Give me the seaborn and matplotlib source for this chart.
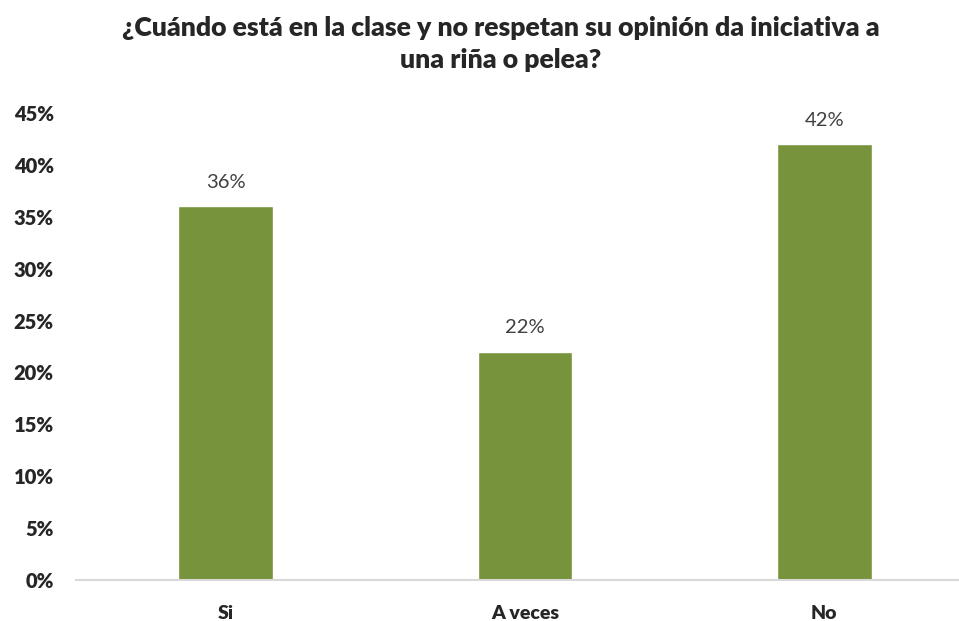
import pandas as pd
import seaborn as sns
from matplotlib import pyplot as plt

categorias = ['Si', 'A veces', 'No']
porcentajes = [36, 22, 42]
titulo = '¿Cuándo está en la clase y no respetan su opinión da iniciativa a\nuna riña o pelea?'

df = pd.DataFrame({'respuesta': categorias, 'porcentaje': porcentajes})

sns.set_style('white')
plt.rcParams['font.family'] = ['Lato', 'DejaVu Sans']

fig = plt.figure(figsize=(9.59, 6.21), dpi=100)
ax = fig.add_axes([76 / 959, 41 / 621, (959 - 76) / 959, 467 / 621])

sns.barplot(data=df, x='respuesta', y='porcentaje', color='#77933C',
            width=0.317, saturation=1, ax=ax)

for i, v in enumerate(porcentajes):
    ax.text(i, v + 1.5, f'{v}%', ha='center', va='bottom', fontsize=14.5, color='#404040')

ax.set_xlim(-0.5, 2.45)
ax.set_ylim(0, 45)
ax.set_yticks(range(0, 50, 5))
ax.set_yticklabels([f'{t}%' for t in range(0, 50, 5)], fontsize=14.5, fontweight='heavy')
ax.set_xticklabels(categorias, fontsize=14, fontweight='heavy')
ax.tick_params(axis='x', length=0, pad=18)
ax.tick_params(axis='y', length=0, pad=16)
ax.set_xlabel('')
ax.set_ylabel('')
for s in ['top', 'right', 'left']:
    ax.spines[s].set_visible(False)
ax.spines['bottom'].set_color('#D9D9D9')
ax.spines['bottom'].set_linewidth(1.5)

fig.text(0.522, 0.975, titulo, ha='center', va='top', fontsize=19.2,
         fontweight='heavy', linespacing=1.4)

fig.savefig('out.png', dpi=100)
